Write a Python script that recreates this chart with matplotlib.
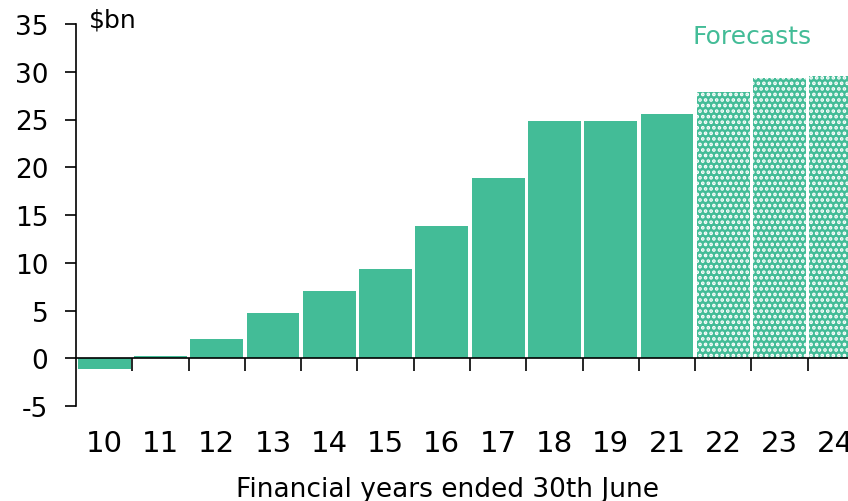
import numpy as np
import matplotlib
matplotlib.use('Agg')
import matplotlib.pyplot as plt

years = ['10', '11', '12', '13', '14', '15', '16', '17', '18', '19', '21', '22', '23', '24']
values = [-1.1, 0.2, 2.0, 4.7, 7.0, 9.3, 13.8, 18.9, 24.8, 24.8, 25.6, 27.9, 29.3, 29.6]
forecast = [False]*11 + [True]*3

green = '#43BC97'
plt.rcParams['font.family'] = ['DejaVu Sans']
plt.rcParams['hatch.linewidth'] = 1.8

fig = plt.figure(figsize=(8.48, 5.02), dpi=100, facecolor='w')
ax = fig.add_axes([76/848, 95/502, 788/848, 382/502])

x = np.arange(len(years))
for i in range(len(years)):
    if forecast[i]:
        ax.bar(x[i], values[i], width=0.94, color=green, edgecolor='white', hatch='...', linewidth=0)
    else:
        ax.bar(x[i], values[i], width=0.94, color=green, linewidth=0)

ax.set_xlim(-0.5, len(years)-0.5)
ax.set_ylim(-5, 35)
ax.set_yticks(range(-5, 36, 5))
ax.set_yticklabels([str(v) for v in range(-5, 36, 5)], fontsize=19)
ax.tick_params(axis='y', length=8, width=1.2, pad=12)

ax.spines['top'].set_visible(False)
ax.spines['right'].set_visible(False)
ax.spines['bottom'].set_position(('data', 0))
ax.spines['left'].set_linewidth(1.2)
ax.spines['bottom'].set_linewidth(1.2)

ax.set_xticks(x[1:] - 0.5)
ax.set_xticklabels([])
ax.tick_params(axis='x', length=9, width=1.2, direction='out')

for i in range(len(years)):
    ax.text(x[i], -8.85, years[i], ha='center', va='center', fontsize=21, clip_on=False)

ax.text(-0.27, 35.5, '$bn', fontsize=18, ha='left', va='center')
ax.text(11.52, 33.7, 'Forecasts', fontsize=18, color=green, ha='center', va='center')
fig.text(448/848, 1 - 490/502, 'Financial years ended 30th June', fontsize=19, ha='center', va='center')

fig.savefig('out.png', dpi=100)
